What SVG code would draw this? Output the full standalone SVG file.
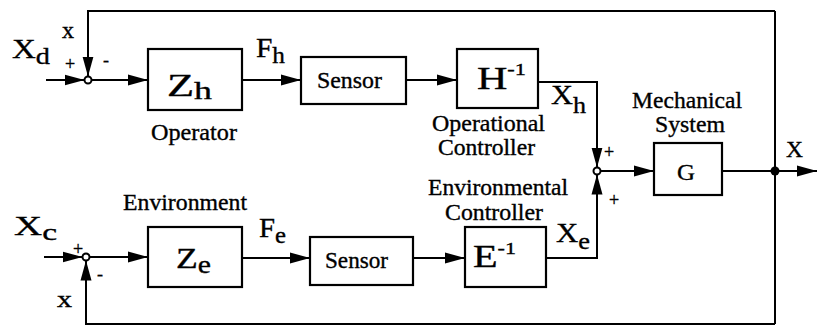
<svg xmlns="http://www.w3.org/2000/svg" width="818" height="327" viewBox="0 0 818 327">
<style>
  .box { fill: #fff; stroke: #000; stroke-width: 2.2; }
  .ln { fill: none; stroke: #000; stroke-width: 2; }
  .arr { marker-end: url(#ah); }
  text { font-family: "Liberation Serif", "Times New Roman", serif; fill: #000; stroke: #000; stroke-width: 0.35; }
  .lbl { font-size: 23px; }
  .sym { font-size: 28px; }
  .sub { font-size: 24px; }
  .sgn { font-size: 18px; }
</style>
<defs>
  <marker id="ah" markerUnits="userSpaceOnUse" markerWidth="21" markerHeight="12" refX="20" refY="6" orient="auto">
    <path d="M0,0.5 L20,6 L0,11.5 z" fill="#000"/>
  </marker>
</defs>
<rect width="818" height="327" fill="#fff"/>

<g id="connectors">
  <polyline class="ln arr" points="775,11 88,11 88,76.5"/>
  <line class="ln arr" x1="46" y1="80" x2="84.5" y2="80"/>
  <line class="ln arr" x1="91.5" y1="80" x2="148" y2="80"/>
  <line class="ln arr" x1="242" y1="80" x2="301" y2="80"/>
  <line class="ln arr" x1="406" y1="80" x2="457" y2="80"/>
  <polyline class="ln arr" points="538,82 597,82 597,167.5"/>
  <line class="ln arr" x1="600.5" y1="171" x2="654" y2="171"/>
  <line class="ln arr" x1="722" y1="171" x2="817" y2="171"/>
  <line class="ln" x1="775" y1="11" x2="775" y2="324"/>
  <polyline class="ln arr" points="775,324 86,324 86,260.5"/>
  <line class="ln arr" x1="44" y1="257" x2="82.5" y2="257"/>
  <line class="ln arr" x1="89.5" y1="257" x2="148" y2="257"/>
  <line class="ln arr" x1="242" y1="258" x2="310" y2="258"/>
  <line class="ln arr" x1="413" y1="258" x2="465" y2="258"/>
  <polyline class="ln arr" points="546,258 597,258 597,174.5"/>
  <circle cx="88" cy="80" r="3.5" fill="#fff" stroke="#000" stroke-width="2"/>
  <circle cx="86" cy="257" r="3.5" fill="#fff" stroke="#000" stroke-width="2"/>
  <circle cx="597" cy="171" r="3.5" fill="#fff" stroke="#000" stroke-width="2"/>
  <circle cx="775" cy="171" r="4.5" fill="#000"/>
</g>

<g id="signals">
  <text class="sym" x="12" y="58" textLength="38" lengthAdjust="spacingAndGlyphs">X<tspan class="sub" dy="6">d</tspan></text>
  <text class="lbl" x="62" y="38" font-size="25px" textLength="12" lengthAdjust="spacingAndGlyphs">x</text>
  <text class="sgn" x="65" y="70">+</text>
  <text class="sgn" x="103" y="66">-</text>
  <text class="sym" x="256" y="57" textLength="29" lengthAdjust="spacingAndGlyphs">F<tspan class="sub" dy="6">h</tspan></text>
  <text class="sym" x="551" y="104" textLength="35" lengthAdjust="spacingAndGlyphs">X<tspan class="sub" dy="9">h</tspan></text>
  <text class="sgn" x="604" y="158">+</text>
  <text class="sgn" x="609" y="206">+</text>
  <text class="lbl" x="786" y="157" textLength="17" lengthAdjust="spacingAndGlyphs">X</text>
  <text class="sym" x="14" y="235" textLength="43" lengthAdjust="spacingAndGlyphs">X<tspan class="sub" dy="5">c</tspan></text>
  <text class="sgn" x="73" y="255">+</text>
  <text class="sgn" x="97" y="280">-</text>
  <text class="lbl" x="57" y="307" font-size="25px" textLength="15" lengthAdjust="spacingAndGlyphs">x</text>
  <text class="sym" x="259" y="237" textLength="27" lengthAdjust="spacingAndGlyphs">F<tspan class="sub" dy="6">e</tspan></text>
  <text class="sym" x="556" y="242" textLength="34" lengthAdjust="spacingAndGlyphs">X<tspan class="sub" dy="7">e</tspan></text>
</g>

<g id="operator">
  <rect class="box" x="148" y="49" width="94" height="61"/>
  <text class="sym" x="167" y="96" style="font-size:31px" textLength="45" lengthAdjust="spacingAndGlyphs">Z<tspan style="font-size:25px" dy="3">h</tspan></text>
  <text class="lbl" x="151" y="140" textLength="86" lengthAdjust="spacingAndGlyphs">Operator</text>
</g>

<g id="sensor-h">
  <rect class="box" x="301" y="57" width="105" height="47"/>
  <text class="lbl" x="317" y="88" textLength="65" lengthAdjust="spacingAndGlyphs">Sensor</text>
</g>

<g id="operational-controller">
  <rect class="box" x="457" y="49" width="81" height="59"/>
  <text class="sym" x="477" y="89" style="font-size:32px" textLength="49" lengthAdjust="spacingAndGlyphs">H<tspan style="font-size:17px" dy="-14">-1</tspan></text>
  <text class="lbl" x="432" y="131" textLength="113" lengthAdjust="spacingAndGlyphs">Operational</text>
  <text class="lbl" x="438" y="155" textLength="97" lengthAdjust="spacingAndGlyphs">Controller</text>
</g>

<g id="mechanical-system">
  <rect class="box" x="654" y="143" width="68" height="52"/>
  <text class="lbl" x="677" y="180" style="font-size:24px" textLength="18" lengthAdjust="spacingAndGlyphs">G</text>
  <text class="lbl" x="632" y="108" textLength="110" lengthAdjust="spacingAndGlyphs">Mechanical</text>
  <text class="lbl" x="655" y="132" textLength="70" lengthAdjust="spacingAndGlyphs">System</text>
</g>

<g id="environment">
  <rect class="box" x="148" y="227" width="94" height="60"/>
  <text class="sym" x="176" y="268" style="font-size:30px" textLength="35" lengthAdjust="spacingAndGlyphs">Z<tspan style="font-size:25px" dy="5">e</tspan></text>
  <text class="lbl" x="123" y="210" textLength="124" lengthAdjust="spacingAndGlyphs">Environment</text>
</g>

<g id="sensor-e">
  <rect class="box" x="310" y="237" width="103" height="48"/>
  <text class="lbl" x="325" y="268" textLength="63" lengthAdjust="spacingAndGlyphs">Sensor</text>
</g>

<g id="environmental-controller">
  <rect class="box" x="465" y="227" width="81" height="60"/>
  <text class="sym" x="473" y="267" style="font-size:31px" textLength="43" lengthAdjust="spacingAndGlyphs">E<tspan style="font-size:17px" dy="-13">-1</tspan></text>
  <text class="lbl" x="428" y="195" textLength="140" lengthAdjust="spacingAndGlyphs">Environmental</text>
  <text class="lbl" x="445" y="220" textLength="98" lengthAdjust="spacingAndGlyphs">Controller</text>
</g>
</svg>
